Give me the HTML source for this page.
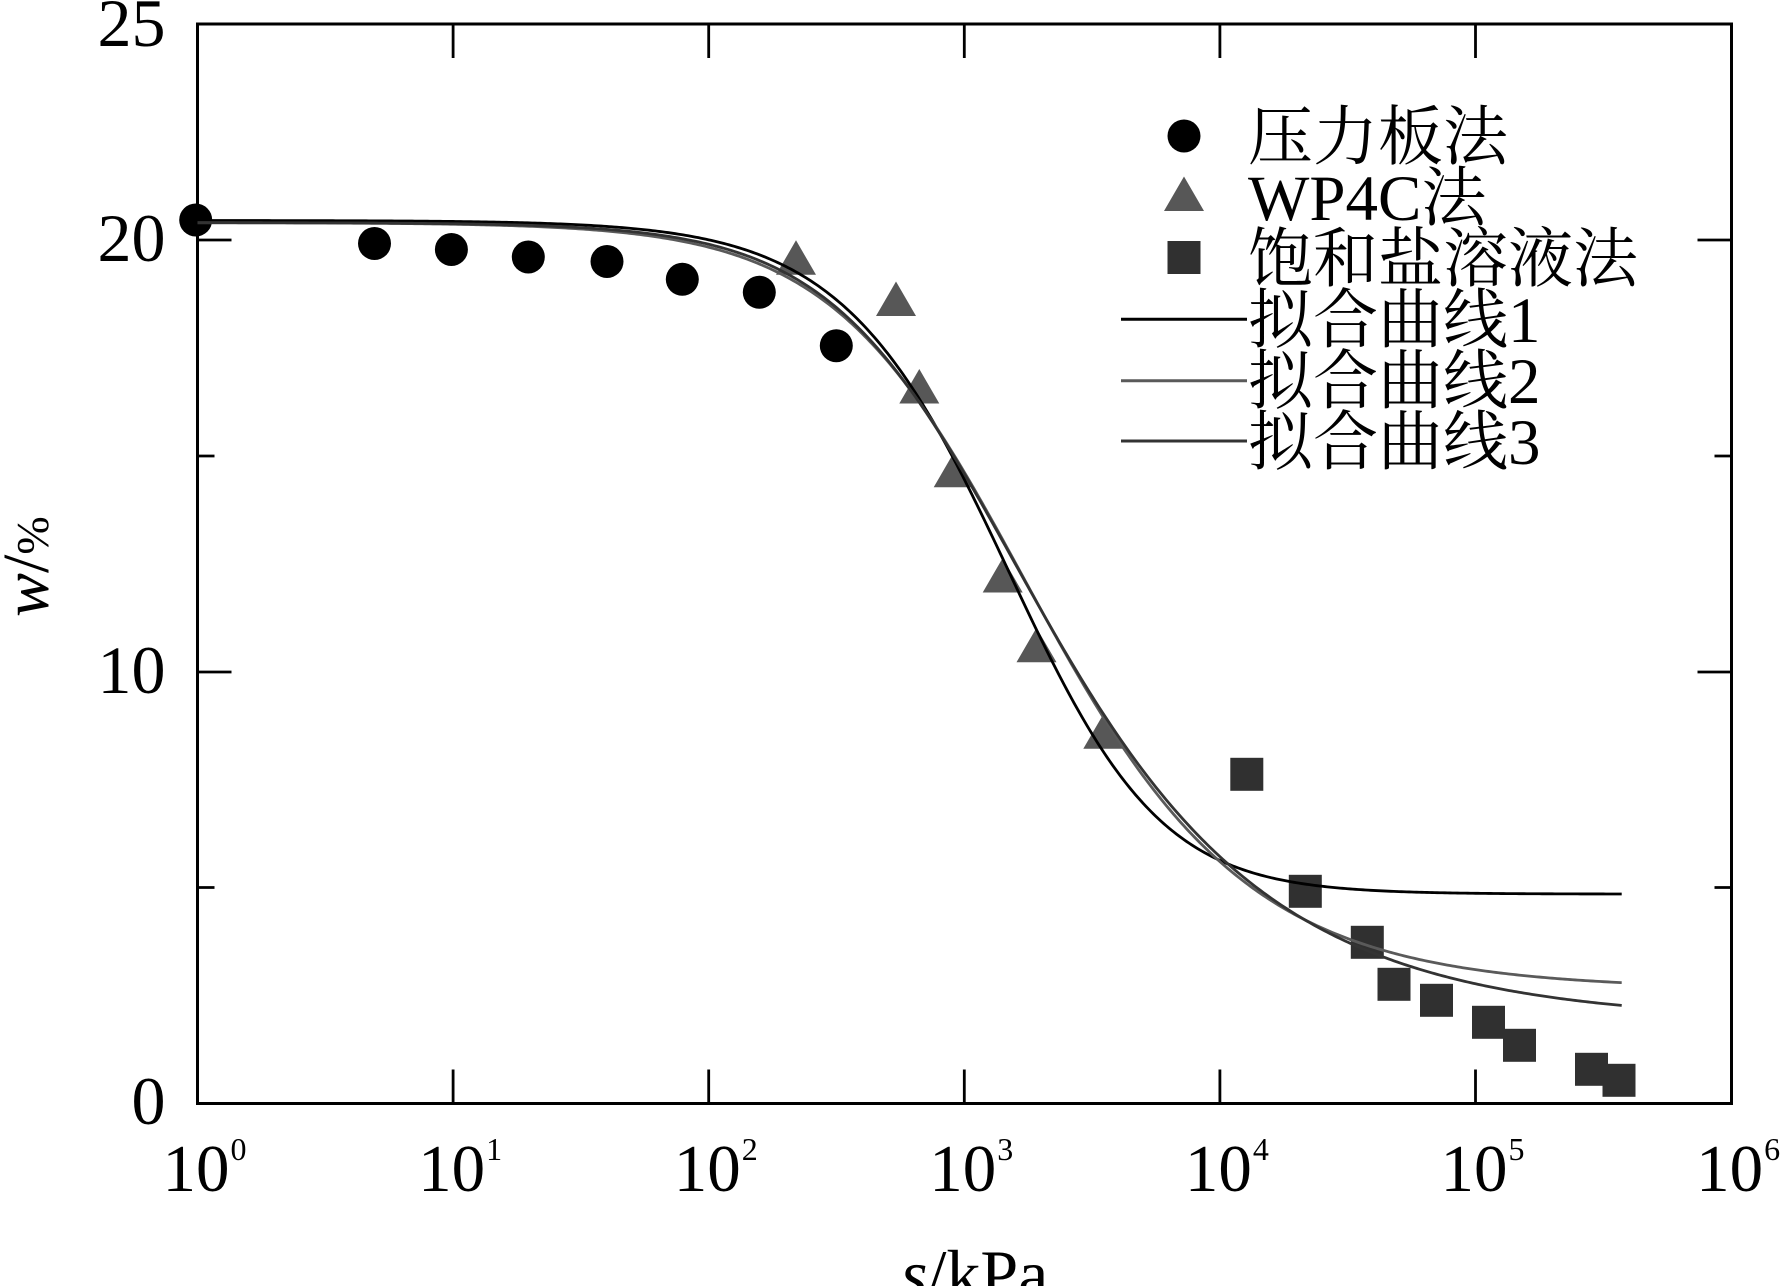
<!DOCTYPE html>
<html>
<head>
<meta charset="utf-8">
<style>
html,body{margin:0;padding:0;background:#fff;}
svg{display:block;}
text{font-family:"Liberation Serif","Noto Serif CJK SC",serif;fill:#000;}
</style>
</head>
<body>
<svg id="chart" width="1782" height="1286" viewBox="0 0 1782 1286" xmlns="http://www.w3.org/2000/svg">
<rect x="0" y="0" width="1782" height="1286" fill="#fff"/>

<!-- ticks -->
<g stroke="#000" stroke-width="2.8" fill="none">
  <!-- left -->
  <line x1="197.5" y1="672" x2="231.5" y2="672"/>
  <line x1="197.5" y1="240" x2="231.5" y2="240"/>
  <line x1="197.5" y1="887.5" x2="214.5" y2="887.5"/>
  <line x1="197.5" y1="456" x2="214.5" y2="456"/>
  <!-- right -->
  <line x1="1731.5" y1="672" x2="1697.5" y2="672"/>
  <line x1="1731.5" y1="240" x2="1697.5" y2="240"/>
  <line x1="1731.5" y1="887.5" x2="1714.5" y2="887.5"/>
  <line x1="1731.5" y1="456" x2="1714.5" y2="456"/>
  <!-- bottom -->
  <line x1="453.1" y1="1103.5" x2="453.1" y2="1069.5"/>
  <line x1="708.7" y1="1103.5" x2="708.7" y2="1069.5"/>
  <line x1="964.3" y1="1103.5" x2="964.3" y2="1069.5"/>
  <line x1="1219.9" y1="1103.5" x2="1219.9" y2="1069.5"/>
  <line x1="1475.5" y1="1103.5" x2="1475.5" y2="1069.5"/>
  <!-- top -->
  <line x1="453.1" y1="24" x2="453.1" y2="58"/>
  <line x1="708.7" y1="24" x2="708.7" y2="58"/>
  <line x1="964.3" y1="24" x2="964.3" y2="58"/>
  <line x1="1219.9" y1="24" x2="1219.9" y2="58"/>
  <line x1="1475.5" y1="24" x2="1475.5" y2="58"/>
</g>

<!-- frame -->
<rect x="197.5" y="24" width="1534" height="1079.5" fill="none" stroke="#000" stroke-width="3"/>

<!-- y tick labels -->
<g font-size="68" text-anchor="end">
  <text x="165.5" y="46">25</text>
  <text x="165.5" y="261">20</text>
  <text x="165.5" y="693">10</text>
  <text x="165.5" y="1124">0</text>
</g>

<!-- x tick labels -->
<g font-size="67">
  <text x="162.5" y="1191">10<tspan font-size="32" dx="1" dy="-31">0</tspan></text>
  <text x="418.1" y="1191">10<tspan font-size="32" dx="1" dy="-31">1</tspan></text>
  <text x="673.7" y="1191">10<tspan font-size="32" dx="1" dy="-31">2</tspan></text>
  <text x="929.3" y="1191">10<tspan font-size="32" dx="1" dy="-31">3</tspan></text>
  <text x="1184.9" y="1191">10<tspan font-size="32" dx="1" dy="-31">4</tspan></text>
  <text x="1440.5" y="1191">10<tspan font-size="32" dx="1" dy="-31">5</tspan></text>
  <text x="1696.1" y="1191">10<tspan font-size="32" dx="1" dy="-31">6</tspan></text>
</g>

<!-- axis titles -->
<text x="901" y="1297" font-size="68"><tspan font-style="italic">s</tspan>/kPa</text>
<text transform="translate(48,617) rotate(-90)" font-size="66"><tspan font-style="italic">w</tspan>/<tspan font-size="46">%</tspan></text>

<!-- circles -->
<g fill="#000">
  <circle cx="195.7" cy="220" r="16.5"/>
  <circle cx="374.5" cy="243.5" r="16.5"/>
  <circle cx="451.4" cy="249.5" r="16.5"/>
  <circle cx="528.3" cy="257" r="16.5"/>
  <circle cx="607" cy="261.5" r="16.5"/>
  <circle cx="682.3" cy="279.3" r="16.5"/>
  <circle cx="759.3" cy="292.3" r="16.5"/>
  <circle cx="836.3" cy="345.7" r="16.5"/>
</g>

<!-- triangles -->
<g fill="#575757">
  <polygon points="796,240.3 776,274.8 816,274.8"/>
  <polygon points="896,281.5 876,316 916,316"/>
  <polygon points="919.3,369 899.3,403.5 939.3,403.5"/>
  <polygon points="953.7,452.8 933.7,487.3 973.7,487.3"/>
  <polygon points="1002.7,558 982.7,592.5 1022.7,592.5"/>
  <polygon points="1036.5,627.8 1016.5,662.3 1056.5,662.3"/>
  <polygon points="1103.3,714.3 1083.3,748.8 1123.3,748.8"/>
</g>

<!-- squares -->
<g fill="#303030">
  <rect x="1230.3" y="757.8" width="33" height="33"/>
  <rect x="1288.8" y="874.8" width="33" height="33"/>
  <rect x="1350.8" y="925.8" width="33" height="33"/>
  <rect x="1377.5" y="967.8" width="33" height="33"/>
  <rect x="1420" y="983.8" width="33" height="33"/>
  <rect x="1472" y="1005.8" width="33" height="33"/>
  <rect x="1503" y="1028.8" width="33" height="33"/>
  <rect x="1575" y="1052.8" width="33" height="33"/>
  <rect x="1602.5" y="1063.8" width="33" height="33"/>
</g>

<!-- fitted curves (filled by script) -->
<g fill="none" stroke-width="2.8" stroke-linejoin="round">
  <path id="c1" stroke="#000" d=""/>
  <path id="c2" stroke="#5a5a5a" d=""/>
  <path id="c3" stroke="#333" d=""/>
</g>

<!-- legend -->
<circle cx="1184" cy="136" r="16.5" fill="#000"/>
<polygon points="1184,176.5 1164,211 1204,211" fill="#575757"/>
<rect x="1167.5" y="241" width="33" height="33" fill="#303030"/>
<line x1="1121" y1="319.3" x2="1247" y2="319.3" stroke="#000" stroke-width="3"/>
<line x1="1121" y1="380.7" x2="1247" y2="380.7" stroke="#5a5a5a" stroke-width="3"/>
<line x1="1121" y1="441" x2="1247" y2="441" stroke="#333" stroke-width="3"/>
<g font-size="65">
  <text x="1248" y="159">压力板法</text>
  <text x="1248" y="220">WP4C法</text>
  <text x="1248" y="281">饱和盐溶液法</text>
  <text x="1248" y="342">拟合曲线1</text>
  <text x="1248" y="403">拟合曲线2</text>
  <text x="1248" y="464">拟合曲线3</text>
</g>
</svg>
<script>
(function(){
  function X(L){return 197.5+255.6*L;}
  function Y(w){return 1103.5-43.18*w;}
  function vg(L,ws,wr,La,n,m){return wr+(ws-wr)*Math.pow(1+Math.pow(10,n*(L-La)),-m);}
  function build(id,ws,wr,La,n,m){
    var d="",L,first=true;
    for(var i=0;i<=560;i++){
      L=i*0.01; if(L>5.572)L=5.572;
      var px=X(L),py=Y(vg(L,ws,wr,La,n,m));
      d+=(first?"M":"L")+px.toFixed(2)+" "+py.toFixed(2)+" ";
      first=false;
      if(L>=5.572)break;
    }
    document.getElementById(id).setAttribute("d",d);
  }
  build("c1",20.45,4.85,3.265,1.3,1.3);
  build("c2",20.40,2.65,3.1015,1.2,0.7);
  build("c3",20.40,1.9,2.96,1.3,0.5);
})();
</script>
</body>
</html>
